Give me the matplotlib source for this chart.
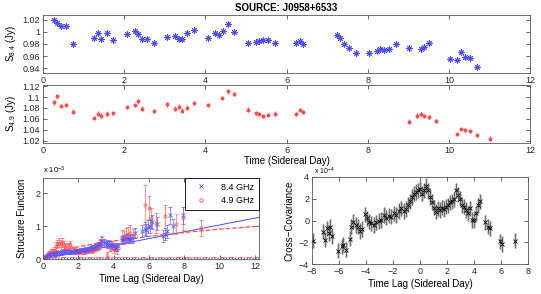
import matplotlib
matplotlib.use("Agg")
from matplotlib import pyplot as plt
from matplotlib import ticker as mticker
from matplotlib.lines import Line2D

plt.rcParams["font.family"] = ["Liberation Sans", "DejaVu Sans"]
plt.rcParams["font.size"] = 6.5
plt.rcParams["mathtext.fontset"] = "custom"
plt.rcParams["mathtext.rm"] = "Liberation Sans"
plt.rcParams["mathtext.it"] = "Liberation Sans:italic"
plt.rcParams["mathtext.default"] = "regular"
plt.rcParams["axes.linewidth"] = 0.6
plt.rcParams["xtick.direction"] = "in"
plt.rcParams["ytick.direction"] = "in"
plt.rcParams["xtick.top"] = True
plt.rcParams["ytick.right"] = True
plt.rcParams["xtick.major.size"] = 3
plt.rcParams["ytick.major.size"] = 3
plt.rcParams["xtick.major.width"] = 0.5
plt.rcParams["ytick.major.width"] = 0.5
plt.rcParams["xtick.major.pad"] = 2
plt.rcParams["ytick.major.pad"] = 2

BLUE = (0.3, 0.3, 1.0)
RED = (1.0, 0.3, 0.3)
ASTERISK = (8, 2, 0)  # matlab-like '*'

## Light curves (Sidereal Day, Jy)
t_84 = [0.27, 0.35, 0.45, 0.57, 0.73, 1.26, 1.35, 1.44, 1.57, 1.72, 2.07, 2.26, 2.35, 2.44, 2.56,
        2.73, 3.05, 3.25, 3.34, 3.43, 3.55, 3.72, 4.06, 4.24, 4.34, 4.43, 4.56, 4.70, 5.05, 5.24,
        5.32, 5.42, 5.54, 5.71, 6.22, 6.32, 6.41, 7.23, 7.32, 7.41, 7.53, 7.70, 8.04, 8.22, 8.31,
        8.41, 8.52, 8.69, 9.02, 9.31, 9.39, 9.52, 10.02, 10.20, 10.30, 10.39, 10.52, 10.68]
s_84 = [1.019, 1.0145, 1.009, 1.010, 0.980, 0.990, 0.999, 0.989, 0.9985, 0.987, 0.996, 1.0007, 0.997, 0.988, 0.9875,
        0.981, 0.992, 0.993, 0.9886, 0.9886, 0.9974, 1.0024, 0.990, 0.998, 0.995, 1.0007, 1.0123, 1.0002, 0.981, 0.9836,
        0.9853, 0.9858, 0.9858, 0.981, 0.981, 0.9848, 0.980, 0.9957, 0.990, 0.980, 0.9726, 0.9643, 0.9643, 0.9682, 0.9715,
        0.9693, 0.972, 0.980, 0.9726, 0.972, 0.9743, 0.982, 0.9544, 0.9539, 0.966, 0.958, 0.9567, 0.9412]
err_84 = 0.0015

t_49 = [0.27, 0.35, 0.45, 0.57, 0.73, 1.26, 1.35, 1.44, 1.57, 1.72, 2.07, 2.26, 2.35, 2.44, 2.73,
        3.06, 3.25, 3.34, 3.43, 3.55, 3.72, 4.06, 4.42, 4.56, 4.70, 5.05, 5.24, 5.32, 5.42, 5.54,
        5.71, 6.22, 6.32, 6.41, 9.02, 9.21, 9.31, 9.39, 9.52, 9.68, 10.20, 10.30, 10.39, 10.52, 10.68, 11.02]
s_49 = [1.0903, 1.1012, 1.0831, 1.0849, 1.0733, 1.0618, 1.0697, 1.066, 1.0697, 1.0709, 1.0818, 1.0849, 1.0921, 1.0788, 1.074,
        1.0867, 1.0788, 1.0824, 1.0751, 1.0806, 1.0891, 1.0849, 1.0982, 1.1103, 1.106, 1.0769, 1.0703, 1.0685, 1.0655, 1.0673,
        1.0697, 1.0685, 1.0758, 1.0721, 1.0551, 1.066, 1.0685, 1.0649, 1.063, 1.0564, 1.0327, 1.0412, 1.04, 1.0376, 1.0303, 1.0242]
err_49 = 0.004

## Structure functions (x 1e-3)
lag_84 = [0.10, 0.18, 0.27, 0.35, 0.45, 0.55, 0.62, 0.72, 0.80, 0.90, 1.00, 1.08, 1.17, 1.26, 1.35, 1.45,
          1.55, 1.65, 1.75, 1.85, 1.95, 2.05, 2.15, 2.25, 2.35, 2.45, 2.55, 2.65, 2.75, 2.85, 2.95, 3.05,
          3.15, 3.25, 3.35, 3.45, 3.55, 3.65, 3.75, 3.85, 3.95, 4.05, 4.15, 4.25, 4.45, 4.55, 4.65, 4.75,
          4.85, 4.95, 5.05, 5.20, 5.60, 5.75, 5.85, 5.95, 6.05, 6.20, 6.45, 6.80, 6.90, 7.00, 7.17, 7.36, 7.92]
sf_84 = [0.04, 0.08, 0.11, 0.14, 0.15, 0.16, 0.17, 0.16, 0.17, 0.18, 0.19, 0.20, 0.22, 0.24, 0.22, 0.21,
         0.22, 0.23, 0.22, 0.24, 0.25, 0.24, 0.26, 0.27, 0.28, 0.27, 0.30, 0.31, 0.33, 0.35, 0.37, 0.40,
         0.42, 0.47, 0.56, 0.50, 0.48, 0.45, 0.47, 0.44, 0.40, 0.37, 0.35, 0.40, 0.58, 0.62, 0.60, 0.63,
         0.62, 0.60, 0.65, 0.80, 0.85, 0.92, 0.88, 0.98, 1.00, 1.12, 1.08, 0.71, 0.76, 0.85, 1.33, 1.00, 1.33]
sf_err_84 = [0.02, 0.03, 0.04, 0.05, 0.05, 0.05, 0.05, 0.05, 0.05, 0.05, 0.05, 0.06, 0.06, 0.06, 0.06, 0.06,
             0.06, 0.06, 0.06, 0.07, 0.07, 0.07, 0.07, 0.07, 0.08, 0.08, 0.08, 0.08, 0.09, 0.09, 0.09, 0.10,
             0.10, 0.10, 0.12, 0.12, 0.10, 0.10, 0.10, 0.10, 0.10, 0.10, 0.10, 0.10, 0.12, 0.12, 0.12, 0.12,
             0.12, 0.12, 0.12, 0.15, 0.18, 0.20, 0.18, 0.20, 0.20, 0.22, 0.20, 0.18, 0.18, 0.20, 0.25, 0.22, 0.25]

lag_49 = [0.10, 0.18, 0.27, 0.35, 0.45, 0.55, 0.62, 0.72, 0.80, 0.90, 1.00, 1.08, 1.17, 1.26, 1.35, 1.45,
          1.55, 1.65, 1.75, 1.85, 1.95, 2.05, 2.15, 2.25, 2.40, 2.60, 2.70, 2.80, 2.90, 3.00, 3.10, 3.20,
          3.30, 3.62, 3.80, 3.90, 4.00, 4.10, 4.20, 4.50, 4.60, 4.70, 4.80, 4.95, 5.10, 5.75, 5.98, 6.10,
          6.40, 6.90, 7.55, 7.90, 8.92]
sf_49 = [0.05, 0.08, 0.12, 0.18, 0.24, 0.22, 0.28, 0.40, 0.46, 0.50, 0.45, 0.50, 0.42, 0.38, 0.35, 0.40,
         0.45, 0.30, 0.28, 0.25, 0.22, 0.24, 0.25, 0.22, 0.25, 0.28, 0.30, 0.27, 0.32, 0.35, 0.40, 0.48,
         0.55, 0.12, 0.35, 0.40, 0.30, 0.36, 0.28, 0.68, 0.65, 0.72, 0.75, 0.80, 0.70, 1.66, 1.56, 1.26,
         1.10, 1.30, 1.07, 1.24, 0.95]
sf_err_49 = [0.03, 0.04, 0.05, 0.06, 0.07, 0.08, 0.10, 0.12, 0.13, 0.14, 0.13, 0.13, 0.12, 0.12, 0.10, 0.10,
             0.10, 0.09, 0.08, 0.08, 0.08, 0.08, 0.08, 0.08, 0.09, 0.09, 0.10, 0.10, 0.11, 0.11, 0.12, 0.13,
             0.15, 0.08, 0.12, 0.13, 0.12, 0.13, 0.12, 0.20, 0.20, 0.22, 0.22, 0.25, 0.22, 0.60, 0.35, 0.30,
             0.30, 0.35, 0.30, 0.35, 0.25]

# Fitted curves and noise levels
fit_lag_84 = [0.0, 12.23]
fit_sf_84 = [0.0, 1.27]
fit_lag_49 = [0.0, 0.5, 1.0, 2.0, 3.0, 4.0, 6.0, 8.0, 10.0, 12.23]
fit_sf_49 = [0.05, 0.18, 0.26, 0.37, 0.47, 0.55, 0.69, 0.81, 0.91, 1.0]
noise_84 = 0.04
noise_49 = 0.05

## Cross-covariance (x 1e-4)
ccf_lag = [-7.90, -7.19, -7.06, -6.91, -6.77, -6.64, -6.49, -6.05, -5.80, -5.70, -5.51, -5.21, -5.09, -4.96,
           -4.77, -4.59, -4.47, -4.27, -4.05, -3.93, -3.78, -3.60, -3.41, -3.23, -3.04, -2.86, -2.69, -2.49,
           -2.30, -2.12, -1.95, -1.75, -1.56, -1.38, -1.21, -1.06, -0.89, -0.72, -0.57, -0.42, -0.27, -0.12,
           0.02, 0.17, 0.32, 0.47, 0.62, 0.77, 0.91, 1.06, 1.21, 1.36, 1.51, 1.65, 1.80, 1.95, 2.10, 2.25,
           2.40, 2.54, 2.69, 2.84, 2.99, 3.14, 3.28, 3.43, 3.58, 3.73, 3.88, 4.02, 4.17, 4.32, 4.47, 4.79,
           5.04, 5.21, 5.95, 6.07, 7.07]
ccf_val = [-1.87, -1.02, -1.78, -0.71, -1.17, -0.56, -1.47, -2.78, -2.39, -2.23, -2.69, -1.69, -0.56, -0.11,
           -0.41, -0.56, -0.96, -0.78, 0.56, 0.20, -0.11, -0.26, -0.41, -0.17, -0.05, 0.05, 0.50, 0.26,
           0.44, 0.35, 0.65, 0.50, 0.87, 1.11, 0.87, 1.05, 1.47, 1.78, 2.17, 2.48, 2.63, 2.78,
           2.93, 2.48, 2.78, 3.18, 2.78, 2.17, 1.72, 1.17, 0.81, 1.11, 0.96, 1.17, 1.05, 1.26, 1.41, 1.66,
           1.78, 1.96, 2.78, 2.39, 2.02, 1.41, 1.26, 0.96, 0.65, 1.11, 0.05, 0.05, 0.65, 1.41, 1.78, -0.17,
           -0.56, -0.71, -1.93, -2.17, -1.87]
ccf_err = 0.7

fig = plt.figure(figsize=(5.41, 2.94), dpi=100)

## Top panel: 8.4 GHz
ax1 = fig.add_axes([0.0795, 0.7517, 0.9005, 0.1973])
ax1.errorbar(t_84, s_84, yerr=err_84, fmt="none", ecolor=(0.7, 0.7, 1.0), elinewidth=2.0, capsize=0)
ax1.plot(t_84, s_84, linestyle="none", marker=ASTERISK, color=BLUE, ms=4.5, mew=0.7)
ax1.set_xlim(0, 12)
ax1.set_ylim(0.932, 1.028)
ax1.set_xticks(range(0, 13, 2))
ax1.set_yticks([0.94, 0.96, 0.98, 1.0, 1.02])
ax1.yaxis.set_major_formatter(mticker.FormatStrFormatter("%g"))
ax1.set_ylabel("S$_{8.4}$ (Jy)", fontsize=7, labelpad=3)
ax1.set_title("SOURCE: J0958+6533", fontsize=7, fontweight="bold", pad=3)

## Second panel: 4.9 GHz
ax2 = fig.add_axes([0.0795, 0.5136, 0.9005, 0.1973])
ax2.errorbar(t_49, s_49, yerr=err_49, fmt="o", color=RED, ms=2.8, mew=0,
             ecolor=(1.0, 0.4, 0.4), elinewidth=1.0, capsize=0)
ax2.set_xlim(0, 12)
ax2.set_ylim(1.016, 1.122)
ax2.set_xticks(range(0, 13, 2))
ax2.set_yticks([1.02, 1.04, 1.06, 1.08, 1.1, 1.12])
ax2.yaxis.set_major_formatter(mticker.FormatStrFormatter("%g"))
ax2.set_ylabel("S$_{4.9}$ (Jy)", fontsize=7, labelpad=3)
ax2.set_xlabel("Time (Sidereal Day)", fontsize=7, labelpad=1)

## Bottom left: structure function
ax3 = fig.add_axes([0.0795, 0.119, 0.3992, 0.2756])
ax3.plot(fit_lag_84, fit_sf_84, "-", color=BLUE, lw=0.7)
ax3.plot(fit_lag_49, fit_sf_49, "--", color=RED, lw=0.9)
ax3.plot([0, 12.23], [noise_84, noise_84], ":", color=BLUE, lw=0.8)
ax3.plot([0, 12.23], [noise_49, noise_49], "-.", color=RED, lw=0.6)
ax3.errorbar(lag_49, sf_49, yerr=sf_err_49, fmt="o", color=RED, ms=2.2, mfc="none", mew=0.6,
             ecolor=(1.0, 0.4, 0.4), elinewidth=0.6, capsize=1.5, alpha=0.85)
ax3.errorbar(lag_84, sf_84, yerr=sf_err_84, fmt="x", color=BLUE, ms=2.5, mew=0.6,
             ecolor=(0.4, 0.4, 1.0), elinewidth=0.6, capsize=1.5, alpha=0.85)
ax3.set_xlim(0, 12.23)
ax3.set_ylim(0, 2.47)
ax3.set_xticks(range(0, 13, 2))
ax3.set_yticks([0, 1, 2])
ax3.set_xlabel("Time Lag (Sidereal Day)", fontsize=7, labelpad=2)
ax3.set_ylabel("Structure Function", fontsize=7, labelpad=6)
ax3.text(0.0, 1.02, "x 10$^{-3}$", transform=ax3.transAxes, fontsize=5.5, ha="left", va="bottom")
leg_handles = [Line2D([], [], linestyle="none", marker="x", color=BLUE, ms=3, mew=0.6),
               Line2D([], [], linestyle="none", marker="o", color=RED, mfc="none", ms=2.5, mew=0.6)]
leg = ax3.legend(leg_handles, ["8.4 GHz", "4.9 GHz"], loc="upper right", borderaxespad=0, fontsize=6.5,
                 fancybox=False, edgecolor="k", framealpha=1, handlelength=2.5, borderpad=0.5,
                 labelspacing=0.5, handletextpad=1.0)
leg.get_frame().set_linewidth(0.6)

## Bottom right: cross-covariance
ax4 = fig.add_axes([0.5767, 0.102, 0.3993, 0.296])
ax4.errorbar(ccf_lag, ccf_val, yerr=ccf_err, fmt="none", ecolor="0.75", elinewidth=1.8, capsize=0)
ax4.errorbar(ccf_lag, ccf_val, yerr=ccf_err, fmt="x", color="k", ms=2.5, mew=0.6,
             ecolor="0.3", elinewidth=0.5, capsize=0)
ax4.set_xlim(-8, 8)
ax4.set_ylim(-4, 4)
ax4.set_xticks(range(-8, 9, 2))
ax4.set_yticks(range(-4, 5, 2))
ax4.set_xlabel("Time Lag (Sidereal Day)", fontsize=7, labelpad=2)
ax4.set_ylabel("Cross\u2212Covariance", fontsize=7, labelpad=3)
ax4.text(0.01, 1.0, "x 10$^{-4}$", transform=ax4.transAxes, fontsize=5, ha="left", va="bottom")

for ax in (ax1, ax2, ax3, ax4):
    ax.tick_params(labelsize=6.5, colors="0.15")
    for sp in ax.spines.values():
        sp.set_color("0.35")

plt.savefig("out.png", dpi=100)
